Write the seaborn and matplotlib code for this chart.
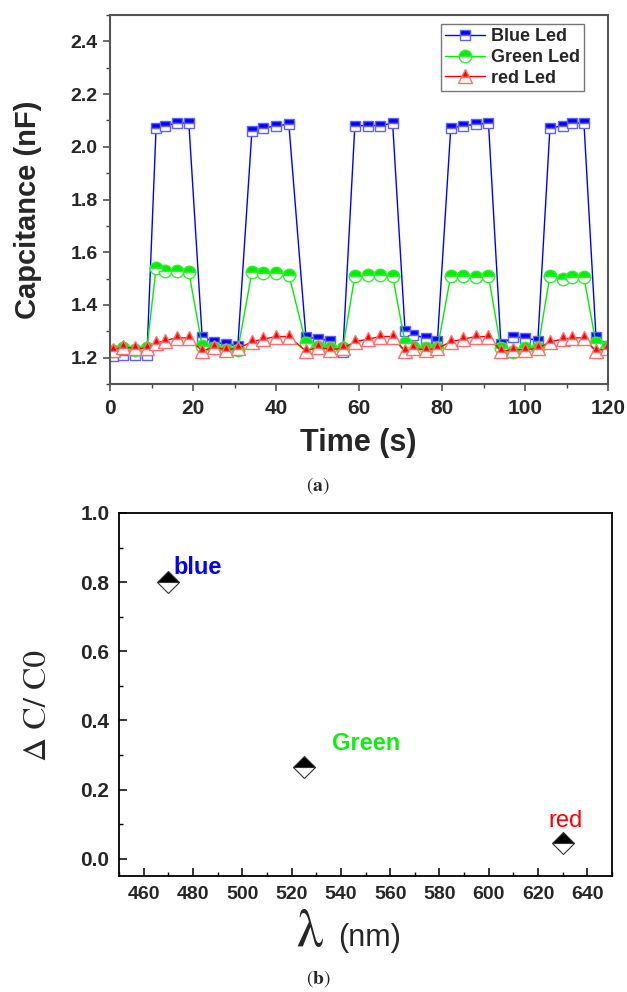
import matplotlib
matplotlib.use("Agg")
import numpy as np
import pandas as pd
import matplotlib.pyplot as plt
from matplotlib.ticker import MultipleLocator, FormatStrFormatter
import seaborn as sns

# (a) capacitance vs time under LED illumination
time_s = [0.7, 3.1, 6.0, 8.9, 11.1, 13.3, 16.1, 19.0,
          22.2, 25.0, 28.0, 30.8, 34.2, 36.9, 40.0, 43.1,
          47.2, 50.2, 53.0, 56.1, 59.0, 62.1, 65.1, 68.1,
          71.1, 73.1, 76.1, 78.9, 82.1, 85.1, 88.1, 91.2,
          94.2, 97.2, 100.0, 103.1, 106.0, 109.1, 111.3, 114.2,
          117.1, 119.7]
blue_led = [1.205, 1.21, 1.21, 1.21, 2.07, 2.08, 2.09, 2.09,
            1.28, 1.26, 1.25, 1.245, 2.06, 2.07, 2.08, 2.085,
            1.28, 1.27, 1.265, 1.22, 2.08, 2.08, 2.08, 2.09,
            1.30, 1.285, 1.275, 1.265, 2.07, 2.08, 2.085, 2.09,
            1.25, 1.28, 1.275, 1.265, 2.07, 2.08, 2.09, 2.09,
            1.28, 1.245]
green_led = [1.225, 1.235, 1.23, 1.235, 1.54, 1.53, 1.53, 1.525,
             1.245, 1.235, 1.23, 1.23, 1.525, 1.52, 1.52, 1.515,
             1.255, 1.24, 1.235, 1.235, 1.51, 1.515, 1.515, 1.51,
             1.255, 1.24, 1.235, 1.235, 1.51, 1.51, 1.505, 1.51,
             1.235, 1.22, 1.235, 1.235, 1.51, 1.50, 1.505, 1.505,
             1.255, 1.24]
red_led = [1.23, 1.24, 1.235, 1.235, 1.255, 1.265, 1.275, 1.275,
           1.225, 1.24, 1.23, 1.235, 1.26, 1.27, 1.28, 1.28,
           1.225, 1.24, 1.23, 1.235, 1.26, 1.27, 1.28, 1.28,
           1.225, 1.235, 1.23, 1.235, 1.26, 1.27, 1.28, 1.28,
           1.225, 1.23, 1.23, 1.235, 1.26, 1.27, 1.275, 1.275,
           1.225, 1.235]

# (b) relative change vs wavelength
wavelength_nm = [470, 525, 630]
delta_c = [0.80, 0.265, 0.045]
point_names = ["blue", "Green", "red"]

sns.set_style("ticks")
plt.rcParams['font.family'] = ['Liberation Sans', 'DejaVu Sans']
plt.rcParams['mathtext.fontset'] = 'stix'

W, H = 627, 992
fig = plt.figure(figsize=(W / 100, H / 100), dpi=100)

# ---------- top panel ----------
ax1 = fig.add_axes([110 / W, 1 - 384 / H, 498 / W, 369 / H])
df_a = pd.DataFrame({"t": time_s, "blue": blue_led, "green": green_led, "red": red_led})

series = [
    ("blue", "Blue Led", "#0000ff", "#6060ff", "s", 7.5),
    ("green", "Green Led", "#00ee00", "#33ee33", "o", 9),
    ("red", "red Led", "#ff0000", "#ff6f6f", "^", 10),
]
for col, lab, c, ec, mk, ms in series:
    sns.lineplot(data=df_a, x="t", y=col, ax=ax1, color=c, linewidth=1.0,
                 marker=mk, markersize=ms, fillstyle="top",
                 markerfacecolor=c, markerfacecoloralt="white",
                 markeredgecolor=ec, markeredgewidth=1.0,
                 label=lab, errorbar=None, sort=False)

ax1.set_xlim(0, 120)
ax1.set_ylim(1.1, 2.5)
ax1.xaxis.set_major_locator(MultipleLocator(20))
ax1.xaxis.set_minor_locator(MultipleLocator(10))
ax1.yaxis.set_minor_locator(MultipleLocator(0.1))
ax1.set_yticks(np.arange(1.2, 2.41, 0.2))
ax1.tick_params(axis="both", which="major", direction="out", length=5, width=1.1, color="#444")
ax1.tick_params(axis="both", which="minor", direction="out", length=3, width=1.0, color="#444")
ax1.tick_params(axis="x", labelsize=15, pad=6)
ax1.tick_params(axis="y", labelsize=14, pad=4)
for lbl in ax1.get_xticklabels() + ax1.get_yticklabels():
    lbl.set_fontweight("bold")
for sp in ax1.spines.values():
    sp.set_visible(True)
    sp.set_color("#555555")
    sp.set_linewidth(1.5)

ax1.set_xlabel("Time (s)", fontsize=22, fontweight="bold", va="center")
ax1.xaxis.set_label_coords(0.498, -0.16)
ax1.set_ylabel("Capcitance (nF)", fontsize=21, fontweight="bold", va="center")
ax1.yaxis.set_label_coords(-0.165, 0.4715)

leg = ax1.legend(loc="upper right", bbox_to_anchor=(0.952, 0.976), borderaxespad=0,
                 prop={"weight": "bold", "size": 13}, fancybox=False, framealpha=1,
                 edgecolor="#777777", handlelength=2.2, handletextpad=0.3,
                 labelspacing=0.2, borderpad=0.25, numpoints=1)
leg.get_frame().set_linewidth(1.0)

fig.text(318 / W, 1 - 486 / H, r"($\mathbf{a}$)", fontsize=14, family="STIXGeneral",
         ha="center", va="center")

# ---------- bottom panel ----------
ax2 = fig.add_axes([119 / W, 1 - 876 / H, 493 / W, 363 / H])
df_b = pd.DataFrame({"wl": wavelength_nm, "dc": delta_c})
sns.lineplot(data=df_b, x="wl", y="dc", ax=ax2, linestyle="none", marker="D",
             markersize=11, fillstyle="top", markerfacecolor="black",
             markerfacecoloralt="white", markeredgecolor="#333333",
             markeredgewidth=0.8, errorbar=None)

ax2.text(472, 0.823, point_names[0], color="#0000ff", fontsize=17, fontweight="bold",
         ha="left", va="baseline")
ax2.text(536.4, 0.314, point_names[1], color="#11ee11", fontsize=17, fontweight="bold",
         ha="left", va="baseline")
ax2.text(624, 0.091, point_names[2], color="#ff0000", fontsize=17,
         ha="left", va="baseline")

ax2.set_xlim(450, 650)
ax2.set_ylim(-0.05, 1.0)
ax2.xaxis.set_minor_locator(MultipleLocator(10))
ax2.set_xticks(np.arange(460, 641, 20))
ax2.yaxis.set_minor_locator(MultipleLocator(0.1))
ax2.set_yticks(np.arange(0.0, 1.01, 0.2))
ax2.tick_params(axis="both", which="major", direction="in", length=6, width=1.1, color="black")
ax2.tick_params(axis="both", which="minor", direction="in", length=3, width=1.0, color="black")
ax2.tick_params(axis="x", labelsize=14, pad=7)
ax2.tick_params(axis="y", labelsize=15, pad=7)
ax2.yaxis.set_major_formatter(FormatStrFormatter("%.1f"))
for lbl in ax2.get_xticklabels() + ax2.get_yticklabels():
    lbl.set_fontweight("bold")
for sp in ax2.spines.values():
    sp.set_visible(True)
    sp.set_color("black")
    sp.set_linewidth(1.3)

ax2.set_xlabel("")
ax2.set_ylabel("\u0394 C/ C0", fontsize=24, family="STIXGeneral", va="center")
ax2.yaxis.set_label_coords(-0.164, 0.47)

fig.text(296 / W, 1 - 946 / H, "\u03bb", fontsize=38, family="STIXGeneral",
         ha="left", va="baseline")
fig.text(338 / W, 1 - 946 / H, "(nm)", fontsize=22, ha="left", va="baseline")

fig.text(318 / W, 1 - 979 / H, r"($\mathbf{b}$)", fontsize=14, family="STIXGeneral",
         ha="center", va="center")

fig.savefig("out.png", dpi=100)
